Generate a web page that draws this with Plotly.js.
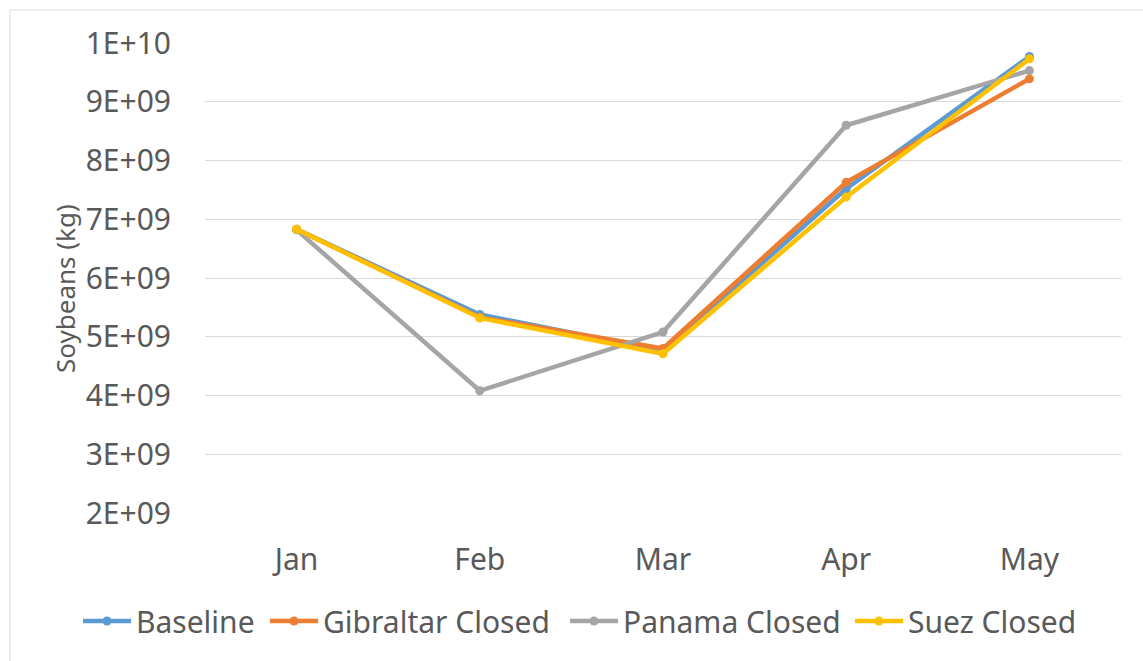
<!DOCTYPE html>
<html>
<head>
<meta charset="utf-8">
<script src="https://cdn.plot.ly/plotly-3.0.1.min.js"></script>
<style>
html,body{margin:0;padding:0;background:#fff;}
#chart{width:1143px;height:661px;}
</style>
</head>
<body>
<div id="chart"></div>
<script>
const months = ["Jan", "Feb", "Mar", "Apr", "May"];
const baseline = [6.83e9, 5.38e9, 4.76e9, 7.52e9, 9.77e9];
const gibraltar = [6.83e9, 5.33e9, 4.80e9, 7.63e9, 9.39e9];
const panama = [6.82e9, 4.08e9, 5.08e9, 8.60e9, 9.53e9];
const suez = [6.83e9, 5.32e9, 4.71e9, 7.38e9, 9.73e9];
const seriesNames = ["Baseline", "Gibraltar Closed", "Panama Closed", "Suez Closed"];
const seriesColors = ["#5B9BD5", "#ED7D31", "#A5A5A5", "#FFC000"];
const seriesValues = [baseline, gibraltar, panama, suez];
const yTickVals = [2e9, 3e9, 4e9, 5e9, 6e9, 7e9, 8e9, 9e9, 1e10];
const yTickText = ["2E+09", "3E+09", "4E+09", "5E+09", "6E+09", "7E+09", "8E+09", "9E+09", "1E+10"];
const yTitle = "Soybeans (kg)";

const FONT = "Noto Sans, sans-serif";

// plot area pixel geometry
const W = 1143, H = 661, L = 205, R = 22, T = 43, B = 148;
const pw = W - L - R, ph = H - T - B;

// legend entry left positions (px) — Excel spreads the entries out
const legendLeft = [78, 265, 565, 850];
const legendIds = ["legend", "legend2", "legend3", "legend4"];

const traces = seriesNames.map((n, i) => ({
  type: "scatter",
  mode: "lines+markers",
  name: n,
  x: months,
  y: seriesValues[i],
  legend: legendIds[i],
  line: {color: seriesColors[i], width: 4.5},
  marker: {color: seriesColors[i], size: 9, symbol: "circle"}
}));

const layout = {
  width: W, height: H,
  margin: {l: L, r: R, t: T, b: B, pad: 0},
  paper_bgcolor: "#ffffff",
  plot_bgcolor: "#ffffff",
  font: {family: FONT, color: "#595959", size: 30},
  showlegend: true,
  xaxis: {
    type: "category",
    range: [-0.5, 4.5],
    showgrid: false,
    zeroline: false,
    showline: false,
    ticks: "",
    tickfont: {family: FONT, size: 30, color: "#595959"},
    ticklabelstandoff: 26
  },
  yaxis: {
    range: [2e9, 1e10],
    tickvals: yTickVals,
    ticktext: yTickText,
    showgrid: true,
    gridcolor: "#D9D9D9",
    gridwidth: 1,
    zeroline: false,
    showline: false,
    ticks: "",
    tickfont: {family: FONT, size: 30, color: "#595959"},
    ticklabelstandoff: 33
  },
  annotations: [{
    text: yTitle,
    xref: "paper", yref: "paper",
    x: (65 - L) / pw, y: 1 - (289 - T) / ph,
    xanchor: "center", yanchor: "middle",
    textangle: -90, showarrow: false,
    font: {family: FONT, size: 26, color: "#595959"}
  }],
  shapes: [{
    type: "rect", xref: "paper", yref: "paper",
    x0: (10 - L) / pw, x1: (W + 5 - L) / pw,
    y0: -(H + 5 - T - ph) / ph, y1: 1 + (T - 10) / ph,
    line: {color: "#D9D9D9", width: 1}, fillcolor: "rgba(0,0,0,0)", layer: "below"
  }]
};

legendIds.forEach((id, i) => {
  layout[id] = {
    orientation: "h",
    xref: "paper",
    x: (legendLeft[i] - L) / pw,
    xanchor: "left",
    y: -(621 - (H - B)) / ph,
    yanchor: "middle",
    font: {family: FONT, size: 30, color: "#595959"},
    itemwidth: 48,
    bgcolor: "rgba(0,0,0,0)"
  };
});

Plotly.newPlot("chart", traces, layout, {displayModeBar: false, staticPlot: true});
</script>
</body>
</html>
